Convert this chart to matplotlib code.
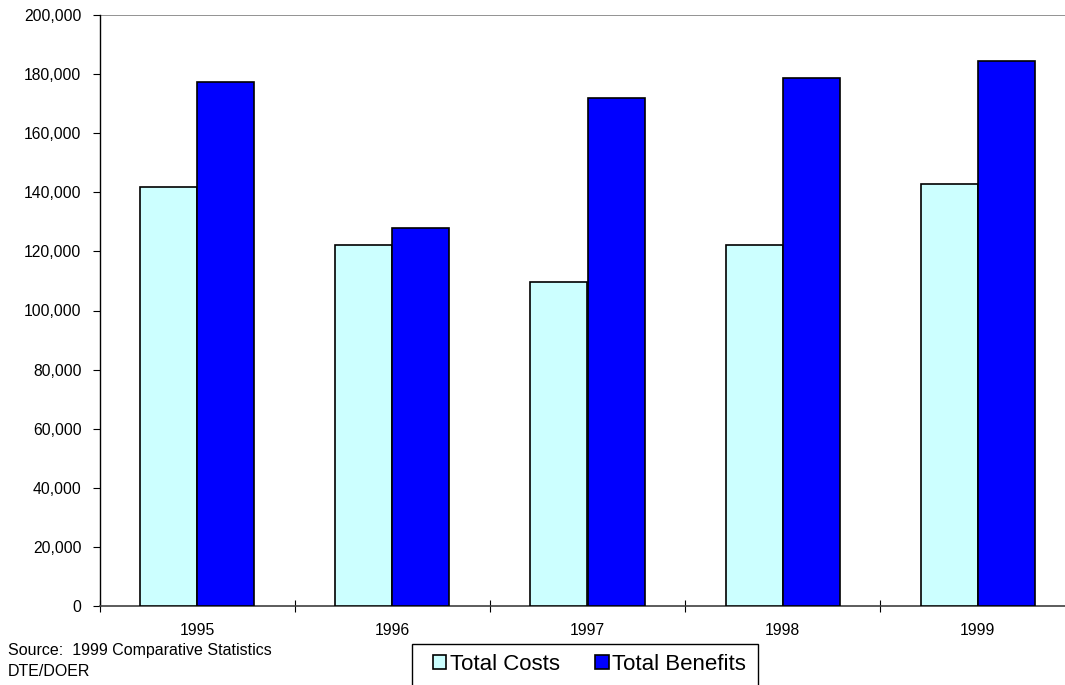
import matplotlib
matplotlib.use("Agg")
import matplotlib.pyplot as plt
import numpy as np
from matplotlib.ticker import FuncFormatter, FixedLocator
from matplotlib.patches import Rectangle

plt.rcParams['font.family'] = ['Liberation Sans', 'DejaVu Sans']

years = ["1995", "1996", "1997", "1998", "1999"]
total_costs = [141800, 122300, 109500, 122300, 142700]
total_benefits = [177400, 128000, 172000, 178700, 184400]

W, H = 1065, 685
fig = plt.figure(figsize=(W / 100, H / 100), dpi=100)
ax = fig.add_axes([99.5 / W, 1 - 606 / H, 976 / W, 591 / H])

x = np.arange(len(years))
bw = 0.293
ax.bar(x - bw / 2, total_costs, bw, color="#ccffff", edgecolor="black", linewidth=1.2,
       label="Total Costs", zorder=3)
ax.bar(x + bw / 2, total_benefits, bw, color="#0000ff", edgecolor="black", linewidth=1.2,
       label="Total Benefits", zorder=3)

ax.set_xlim(-0.5, len(years) - 0.5)
ax.set_ylim(0, 200000)
ax.set_yticks(np.arange(0, 200001, 20000))
ax.yaxis.set_major_formatter(FuncFormatter(lambda v, p: f"{int(v):,}"))
ax.set_xticks(x)
ax.set_xticklabels(years)
ax.xaxis.set_minor_locator(FixedLocator(np.arange(-0.5, len(years), 1.0)))
ax.tick_params(axis="x", which="major", length=0, pad=12, labelsize=11.3)
ax.tick_params(axis="x", which="minor", direction="inout", length=8, width=0.8, color="black")
ax.tick_params(axis="y", direction="out", length=5, width=0.8, labelsize=11.3, pad=8)

ax.axhline(200000, color="#808080", linewidth=1.2, zorder=2)
for s in ["top", "right"]:
    ax.spines[s].set_visible(False)
ax.spines["left"].set_linewidth(1.0)
ax.spines["bottom"].set_linewidth(1.2)
ax.spines["bottom"].set_color("#404040")

fig.text(8 / W, 1 - 650 / H, "Source:  1999 Comparative Statistics", fontsize=11.5, va="center")
fig.text(8 / W, 1 - 671 / H, "DTE/DOER", fontsize=11.5, va="center")

# legend box runs off the bottom edge of the figure
fig.patches.append(Rectangle((412 / W, -10 / H), 346 / W, (10 + 41) / H,
                             transform=fig.transFigure, facecolor="white",
                             edgecolor="black", linewidth=1.0))
leg = fig.legend(loc="center left", bbox_to_anchor=(433 / W, 1 - 664 / H), ncol=2,
                 fontsize=16, frameon=False,
                 handlelength=0.6, handleheight=0.6, handletextpad=0.15,
                 columnspacing=1.6, borderpad=0, borderaxespad=0)

fig.savefig("out.png", dpi=100)
